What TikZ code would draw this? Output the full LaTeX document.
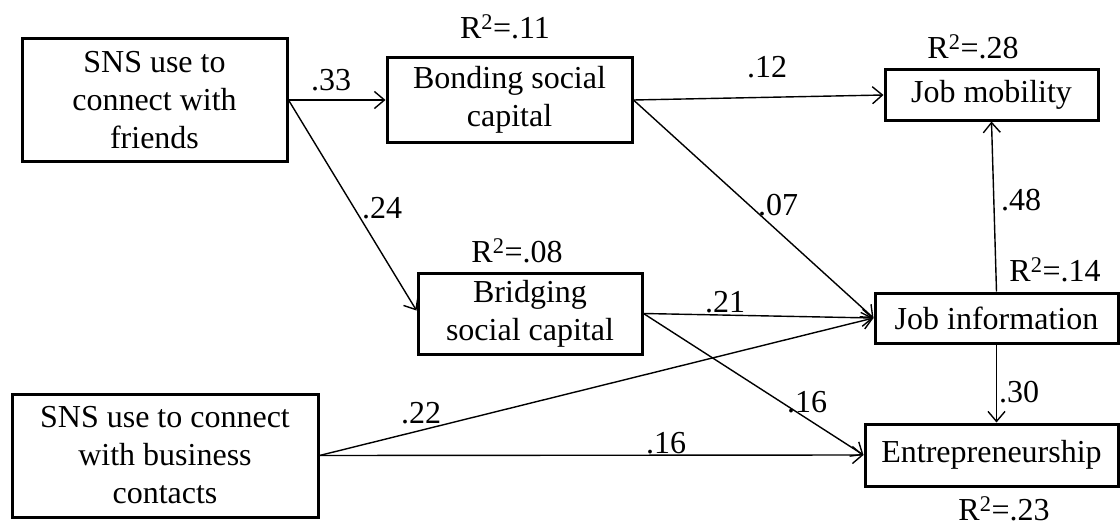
\documentclass[tikz,border=0pt]{standalone}
\usepackage{fontspec}
\setmainfont{Liberation Serif}
\usetikzlibrary{arrows.meta}
\tikzset{
  box/.style={draw, line width=3pt, align=center, inner sep=0pt,
    font=\fontsize{32}{38}\selectfont},
  lbl/.style={inner sep=0pt, font=\fontsize{32}{38}\selectfont},
  conn/.style={line width=1.4pt, -{Straight Barb[length=10pt,width=17pt,line width=1.4pt]}},
  plain/.style={line width=1.4pt}
}
\begin{document}
\begin{tikzpicture}[x=1pt,y=-1pt]
\useasboundingbox (0,0) rectangle (1120,527);
% nodes
\node[box, minimum width=265, minimum height=122] (fr) at (154.5,100) {SNS use to\\connect with\\friends};
\node[box, minimum width=306, minimum height=123] (bus) at (165,455.5) {SNS use to connect\\with business\\contacts};
\node[box, minimum width=245, minimum height=84] (bond) at (509.5,100) {Bonding social\\capital};
\node[box, minimum width=224, minimum height=81] (bridge) at (530,313.5) {Bridging\\social capital};
\node[box, minimum width=213, minimum height=50] (mob) at (991.5,95) {Job mobility};
\node[box, minimum width=243, minimum height=50] (info) at (996.5,318) {Job information};
\node[box, minimum width=253, minimum height=62] (ent) at (991.5,455) {Entrepreneurship};
% R squared
\node[lbl] (r11) at (505,27) {R\textsuperscript{2}=.11};
\node[lbl] (r28) at (973,47) {R\textsuperscript{2}=.28};
\node[lbl] (r08) at (517,251) {R\textsuperscript{2}=.08};
\node[lbl] (r14) at (1055,270) {R\textsuperscript{2}=.14};
\node[lbl] (r23) at (1004,509) {R\textsuperscript{2}=.23};
% connectors
\draw[conn] (fr.east) -- (bond.west);
\draw[conn] (fr.east) -- ([yshift=3pt]bridge.west);
\draw[conn] (bond.east) -- (mob.west);
\draw[conn] (bond.east) -- (info.west);
\draw[conn] (bridge.east) -- (info.west);
\draw[conn] (bridge.east) -- (ent.west);
\draw[conn] (bus.east) -- (info.west);
\draw[conn] (bus.east) -- (ent.west);
\draw[conn] (info.north) -- (mob.south);
\draw[conn] (info.south) -- (info.south |- ent.north);
% path coefficients
\node[lbl] (c33) at (331,80) {.33};
\node[lbl] (c24) at (382,208) {.24};
\node[lbl] (c12) at (767,67) {.12};
\node[lbl] (c07) at (778,205) {.07};
\node[lbl] (c48) at (1021,200) {.48};
\node[lbl] (c21) at (725,302) {.21};
\node[lbl] (c16a) at (807,402) {.16};
\node[lbl] (c22) at (421,413) {.22};
\node[lbl] (c16b) at (666,443) {.16};
\node[lbl] (c30) at (1019,392) {.30};
\end{tikzpicture}
\end{document}
